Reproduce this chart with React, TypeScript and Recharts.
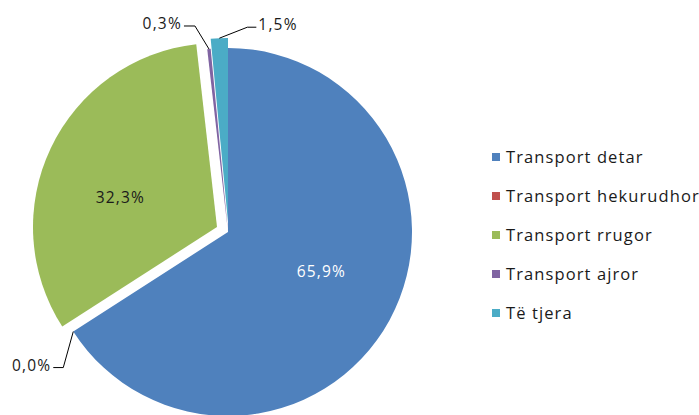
import React from 'react';
import { PieChart, Pie, Cell } from 'recharts';

const categories = ['Transport detar', 'Transport hekurudhor', 'Transport rrugor', 'Transport ajror', 'Të tjera'];
const values = [65.9, 0.0, 32.3, 0.3, 1.5];
const labels = ['65,9%', '0,0%', '32,3%', '0,3%', '1,5%'];
const colors = ['#4F81BD', '#C0504D', '#9BBB59', '#8064A2', '#4BACC6'];

const data = categories.map((name, i) => ({ name, value: values[i] }));

// label placement config (style only)
const labelCfg: any[] = [
  { type: 'inside', r: 0.55, shift: 6, color: '#FFFFFF' },
  { type: 'outside', dx: -10, dy: 36, h: -10 },
  { type: 'inside', r: 0.55, shift: 8, color: '#1a1a1a' },
  { type: 'outside', dx: -14, dy: -23, h: -11 },
  { type: 'outside', dx: 28, dy: -11, h: 9 },
];

const RAD = Math.PI / 180;
const FONT = '"Open Sans", sans-serif';

const makeLabel = (visible: number[]) => (props: any) => {
  const { cx, cy, midAngle, outerRadius, index } = props;
  if (!visible.includes(index)) return null;
  const cfg = labelCfg[index];
  if (cfg.type === 'inside') {
    const a = (midAngle + cfg.shift) * RAD;
    const r = outerRadius * cfg.r;
    const x = cx + r * Math.cos(a);
    const y = cy - r * Math.sin(a);
    return (
      <text key={`l${index}`} x={x} y={y} fill={cfg.color} textAnchor="middle" dominantBaseline="central"
        fontFamily={FONT} fontSize={15.5} letterSpacing={1.2}>
        {labels[index]}
      </text>
    );
  }
  const a = midAngle * RAD;
  const ax = cx + outerRadius * Math.cos(a);
  const ay = cy - outerRadius * Math.sin(a);
  const ex = ax + cfg.dx;
  const ey = ay + cfg.dy;
  const hx = ex + cfg.h;
  const anchor = cfg.h < 0 ? 'end' : 'start';
  const tx = hx + (cfg.h < 0 ? -2 : 2);
  return (
    <g key={`l${index}`}>
      <polyline points={`${ax},${ay} ${ex},${ey} ${hx},${ey}`} fill="none" stroke="#000" strokeWidth={1} />
      <text x={tx} y={ey - 3} fill="#1a1a1a" textAnchor={anchor} dominantBaseline="central"
        fontFamily={FONT} fontSize={15.5} letterSpacing={1.2}>
        {labels[index]}
      </text>
    </g>
  );
};

const CX = 228;
const CY = 232;
const R = 184;

export default function App() {
  return (
    <div style={{ position: 'absolute', left: 0, top: 0, width: 699, height: 415, background: '#fff', overflow: 'hidden' }}>
      <PieChart width={699} height={415} margin={{ top: 0, right: 0, bottom: 0, left: 0 }}>
        <Pie data={data} dataKey="value" nameKey="name" cx={CX} cy={CY} outerRadius={R}
          startAngle={90} endAngle={-270} stroke="none" isAnimationActive={false}
          label={makeLabel([0, 1, 3])} labelLine={false}>
          {data.map((d, i) => (
            <Cell key={i} fill={[0, 1, 3].includes(i) ? colors[i] : 'transparent'} stroke="none" />
          ))}
        </Pie>
        <Pie data={data} dataKey="value" nameKey="name" cx={CX - 11} cy={CY - 5} outerRadius={R}
          startAngle={90} endAngle={-270} stroke="none" isAnimationActive={false}
          label={makeLabel([2])} labelLine={false}>
          {data.map((d, i) => (
            <Cell key={i} fill={i === 2 ? colors[i] : 'transparent'} stroke="none" />
          ))}
        </Pie>
        <Pie data={data} dataKey="value" nameKey="name" cx={CX} cy={CY - 10} outerRadius={R}
          startAngle={90} endAngle={-270} stroke="none" isAnimationActive={false}
          label={makeLabel([4])} labelLine={false}>
          {data.map((d, i) => (
            <Cell key={i} fill={i === 4 ? colors[i] : 'transparent'} stroke="none" />
          ))}
        </Pie>
      </PieChart>
      <div style={{ position: 'absolute', left: 492, top: 142, fontFamily: FONT, fontSize: 16.5, color: '#1a1a1a' }}>
        {categories.map((c, i) => (
          <div key={c} style={{ display: 'flex', alignItems: 'center', height: 39, marginTop: 0, whiteSpace: 'nowrap' }}>
            <span style={{ display: 'inline-block', width: 8, height: 8, background: colors[i], marginRight: 6, marginTop: -10 }} />
            <span style={{ letterSpacing: 1.1, lineHeight: '20px', marginTop: -10 }}>{c}</span>
          </div>
        ))}
      </div>
    </div>
  );
}
